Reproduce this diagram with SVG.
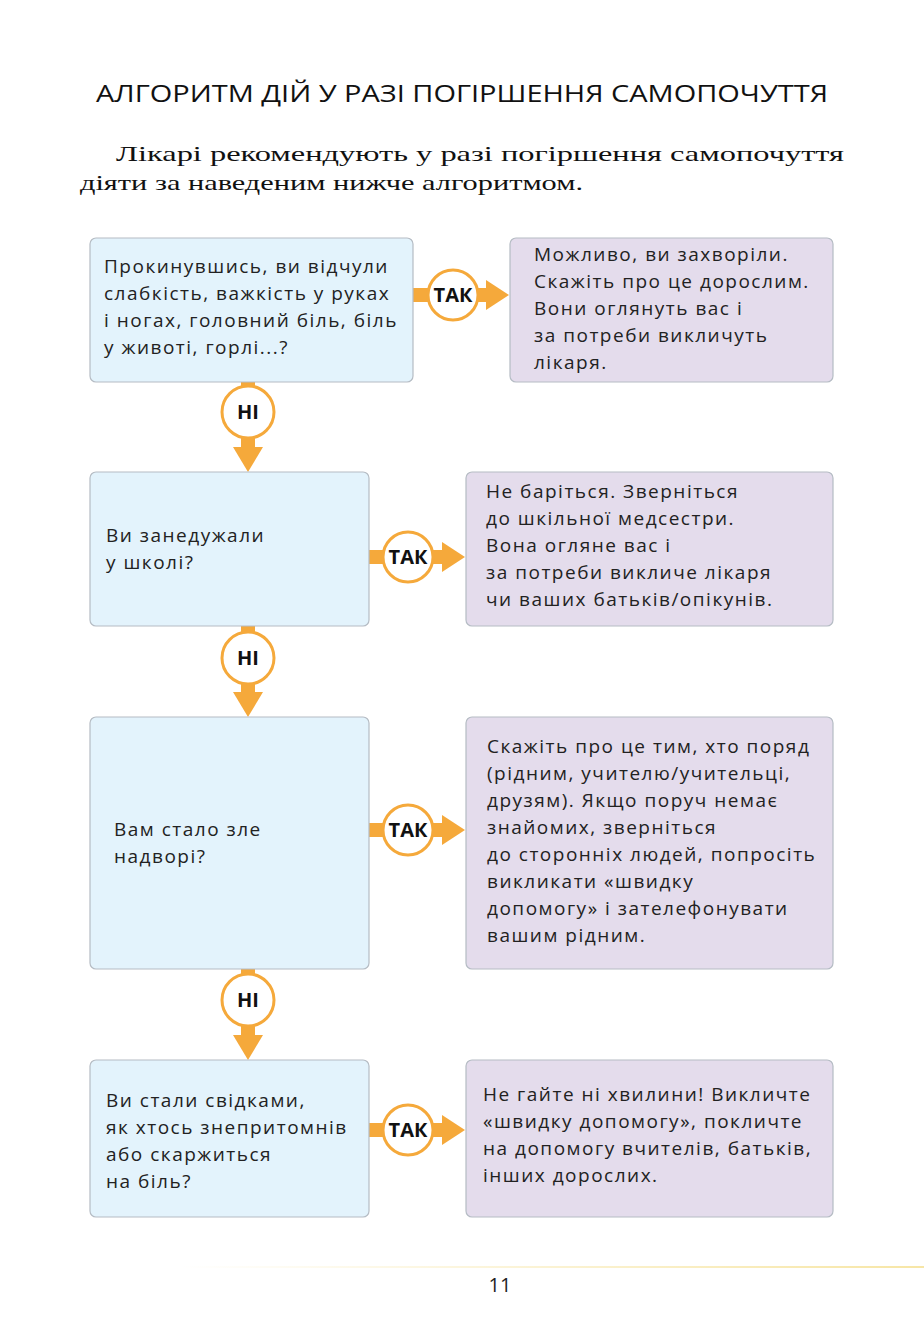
<svg xmlns="http://www.w3.org/2000/svg" width="924" height="1332" viewBox="0 0 924 1332">
<style>
.q{fill:#e3f3fc;stroke:#b5bcc4;stroke-width:1.2}
.a{fill:#e4dcec;stroke:#b5bcc4;stroke-width:1.2}
.t{font-family:"Open Sans","DejaVu Sans",sans-serif;font-size:19px;fill:#222;letter-spacing:1.5px}
.c{fill:#fff;stroke:#f5a93b;stroke-width:3}
.o{fill:#f5a93b}
.l{font-family:"Open Sans","DejaVu Sans",sans-serif;font-size:20px;font-weight:bold;fill:#111;text-anchor:middle}
</style>
<defs><linearGradient id="g" x1="0" x2="1"><stop offset="0" stop-color="#fff"/><stop offset="1" stop-color="#f7e6a6"/></linearGradient></defs>
<text x="96" y="102" textLength="732" lengthAdjust="spacingAndGlyphs" font-family="Open Sans,sans-serif" font-size="24" fill="#111">АЛГОРИТМ ДІЙ У РАЗІ ПОГІРШЕННЯ САМОПОЧУТТЯ</text>
<text font-family="Liberation Serif,serif" font-size="21" fill="#111"><tspan x="116" y="161" textLength="728" lengthAdjust="spacingAndGlyphs">Лікарі рекомендують у разі погіршення самопочуття</tspan><tspan x="80" y="190" textLength="503" lengthAdjust="spacingAndGlyphs">діяти за наведеним нижче алгоритмом.</tspan></text>
<g id="connectors">
<rect class="o" x="413" y="288" width="20" height="14"/><rect class="o" x="470" y="288" width="18" height="14"/><polygon class="o" points="486,280 509,295 486,310"/>
<rect class="o" x="369" y="550" width="20" height="14"/><rect class="o" x="426" y="550" width="18" height="14"/><polygon class="o" points="442,542 465,557 442,572"/>
<rect class="o" x="369" y="823" width="20" height="14"/><rect class="o" x="426" y="823" width="18" height="14"/><polygon class="o" points="442,815 465,830 442,845"/>
<rect class="o" x="369" y="1123" width="20" height="14"/><rect class="o" x="426" y="1123" width="18" height="14"/><polygon class="o" points="442,1115 465,1130 442,1145"/>
<rect class="o" x="241" y="382" width="14" height="10"/><rect class="o" x="241" y="435" width="14" height="14"/><polygon class="o" points="233,447 263,447 248,472"/>
<rect class="o" x="241" y="626" width="14" height="10"/><rect class="o" x="241" y="682" width="14" height="12"/><polygon class="o" points="233,692 263,692 248,717"/>
<rect class="o" x="241" y="969" width="14" height="10"/><rect class="o" x="241" y="1024" width="14" height="12"/><polygon class="o" points="233,1035 263,1035 248,1060"/>
</g>
<g id="q1"><rect class="q" x="90" y="238" width="323" height="144" rx="6"/><text class="t"><tspan x="104" y="273">Прокинувшись, ви відчули</tspan><tspan x="104" y="300">слабкість, важкість у руках</tspan><tspan x="104" y="327">і ногах, головний біль, біль</tspan><tspan x="104" y="354">у животі, горлі...?</tspan></text></g>
<g id="a1"><rect class="a" x="510" y="238" width="323" height="144" rx="6"/><text class="t"><tspan x="534" y="261">Можливо, ви захворіли.</tspan><tspan x="534" y="288">Скажіть про це дорослим.</tspan><tspan x="534" y="315">Вони оглянуть вас і</tspan><tspan x="534" y="342">за потреби викличуть</tspan><tspan x="534" y="369">лікаря.</tspan></text></g>
<g id="q2"><rect class="q" x="90" y="472" width="279" height="154" rx="6"/><text class="t"><tspan x="106" y="542">Ви занедужали</tspan><tspan x="106" y="569">у школі?</tspan></text></g>
<g id="a2"><rect class="a" x="466" y="472" width="367" height="154" rx="6"/><text class="t"><tspan x="486" y="498">Не баріться. Зверніться</tspan><tspan x="486" y="525">до шкільної медсестри.</tspan><tspan x="486" y="552">Вона огляне вас і</tspan><tspan x="486" y="579">за потреби викличе лікаря</tspan><tspan x="486" y="606">чи ваших батьків/опікунів.</tspan></text></g>
<g id="q3"><rect class="q" x="90" y="717" width="279" height="252" rx="6"/><text class="t"><tspan x="114" y="836">Вам стало зле</tspan><tspan x="114" y="863">надворі?</tspan></text></g>
<g id="a3"><rect class="a" x="466" y="717" width="367" height="252" rx="6"/><text class="t"><tspan x="487" y="753">Скажіть про це тим, хто поряд</tspan><tspan x="487" y="780">(рідним, учителю/учительці,</tspan><tspan x="487" y="807">друзям). Якщо поруч немає</tspan><tspan x="487" y="834">знайомих, зверніться</tspan><tspan x="487" y="861">до сторонніх людей, попросіть</tspan><tspan x="487" y="888">викликати «швидку</tspan><tspan x="487" y="915">допомогу» і зателефонувати</tspan><tspan x="487" y="942">вашим рідним.</tspan></text></g>
<g id="q4"><rect class="q" x="90" y="1060" width="279" height="157" rx="6"/><text class="t"><tspan x="106" y="1107">Ви стали свідками,</tspan><tspan x="106" y="1134">як хтось знепритомнів</tspan><tspan x="106" y="1161">або скаржиться</tspan><tspan x="106" y="1188">на біль?</tspan></text></g>
<g id="a4"><rect class="a" x="466" y="1060" width="367" height="157" rx="6"/><text class="t"><tspan x="483" y="1101">Не гайте ні хвилини! Викличте</tspan><tspan x="483" y="1128">«швидку допомогу», покличте</tspan><tspan x="483" y="1155">на допомогу вчителів, батьків,</tspan><tspan x="483" y="1182">інших дорослих.</tspan></text></g>
<g id="yes1"><circle class="c" cx="453" cy="295" r="25"/><text class="l" x="453" y="302">ТАК</text></g>
<g id="yes2"><circle class="c" cx="408" cy="557" r="25"/><text class="l" x="408" y="564">ТАК</text></g>
<g id="yes3"><circle class="c" cx="408" cy="830" r="25"/><text class="l" x="408" y="837">ТАК</text></g>
<g id="yes4"><circle class="c" cx="408" cy="1130" r="25"/><text class="l" x="408" y="1137">ТАК</text></g>
<g id="no1"><circle class="c" cx="248" cy="412" r="26"/><text class="l" x="248" y="419">НІ</text></g>
<g id="no2"><circle class="c" cx="248" cy="658" r="26"/><text class="l" x="248" y="665">НІ</text></g>
<g id="no3"><circle class="c" cx="248" cy="1000" r="26"/><text class="l" x="248" y="1007">НІ</text></g>
<rect x="180" y="1266" width="744" height="2" fill="url(#g)"/>
<text x="500" y="1292" text-anchor="middle" font-family="Open Sans,sans-serif" font-size="20" fill="#222">11</text>
</svg>
